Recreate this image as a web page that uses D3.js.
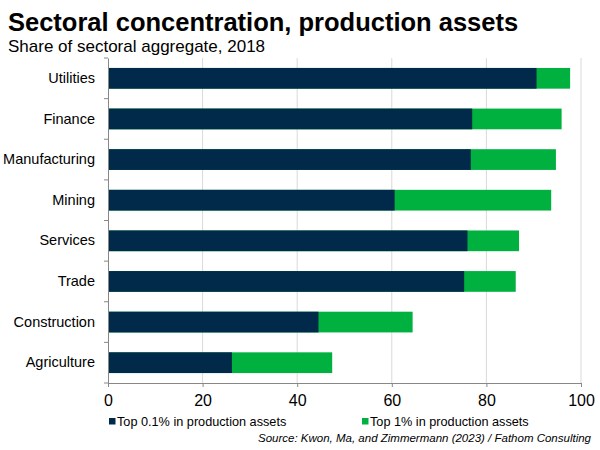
<!DOCTYPE html>
<html><head><meta charset="utf-8">
<script src="https://cdn.jsdelivr.net/npm/d3@7"></script>
<style>
html,body{margin:0;padding:0;background:#fff;}
svg{display:block;font-family:"Liberation Sans",Arial,sans-serif;}
</style></head>
<body><svg id="c" width="600" height="450"></svg>
<script>
const categories = ["Utilities","Finance","Manufacturing","Mining","Services","Trade","Construction","Agriculture"];
const top01 = [90.6, 77.0, 76.7, 60.6, 76.0, 75.3, 44.5, 26.2];
const top1  = [97.7, 95.9, 94.7, 93.7, 86.9, 86.2, 64.4, 47.4];
const xTicks = [0, 20, 40, 60, 80, 100];
const seriesNames = ["Top 0.1% in production assets", "Top 1% in production assets"];
const colors = ["#012a4a", "#00b140"];

(function () {
const svg = d3.select("#c");
const pL = 108, pR = 581, pT = 58, pB = 383;
const x = d3.scaleLinear().domain([0, 100]).range([pL, pR]);
const y = d3.scaleBand().domain(categories).range([pT, pB]).paddingInner(0.49).paddingOuter(0.245);

// title
svg.append("text").attr("x", 8).attr("y", 31).attr("font-size", 25.5).attr("font-weight", "bold").attr("fill", "#000")
  .text("Sectoral concentration, production assets");
svg.append("text").attr("x", 8).attr("y", 52).attr("font-size", 17).attr("fill", "#000")
  .text("Share of sectoral aggregate, 2018");

// gridlines
svg.append("g").selectAll("line").data(xTicks.filter(d => d > 0)).join("line")
  .attr("x1", d => x(d)).attr("x2", d => x(d)).attr("y1", pT).attr("y2", pB)
  .attr("stroke", "#d9d9d9").attr("stroke-width", 1);

// bars
const rows = categories.map((c, i) => ({c, a: top01[i], b: top1[i]}));
svg.append("g").selectAll("rect").data(rows).join("rect")
  .attr("x", x(0)).attr("y", d => y(d.c)).attr("height", y.bandwidth())
  .attr("width", d => x(d.b) - x(0)).attr("fill", colors[1]);
svg.append("g").selectAll("rect").data(rows).join("rect")
  .attr("x", x(0)).attr("y", d => y(d.c)).attr("height", y.bandwidth())
  .attr("width", d => x(d.a) - x(0)).attr("fill", colors[0]);

// x axis
const xAxis = d3.axisBottom(x).tickValues(xTicks).tickSize(4).tickPadding(8);
const gx = svg.append("g").attr("transform", `translate(0,${pB})`).call(xAxis);
gx.select(".domain").attr("stroke", "#888");
gx.selectAll(".tick line").attr("stroke", "#888");
gx.selectAll("text").attr("font-size", 16).attr("fill", "#000").attr("font-family", "Liberation Sans, Arial, sans-serif");

// y axis
const yAxis = d3.axisLeft(y).tickSize(0).tickPadding(13);
const gy = svg.append("g").attr("transform", `translate(${pL},0)`).call(yAxis);
gy.select(".domain").attr("stroke", "#888");
gy.selectAll("text").attr("font-size", 14.5).attr("fill", "#000").attr("font-family", "Liberation Sans, Arial, sans-serif");
const step = y.step();
const bounds = categories.map(c => y(c) - (step - y.bandwidth()) / 2).concat([pB]);
svg.append("g").selectAll("line").data(bounds).join("line")
  .attr("x1", pL - 4).attr("x2", pL).attr("y1", d => d).attr("y2", d => d)
  .attr("stroke", "#888");

// legend
const legX = [109, 362];
const lg = svg.append("g");
seriesNames.forEach((s, i) => {
  lg.append("rect").attr("x", legX[i]).attr("y", 418).attr("width", 6.5).attr("height", 6.5).attr("fill", colors[i]);
  lg.append("text").attr("x", legX[i] + 8).attr("y", 425.5).attr("font-size", 12.7).attr("fill", "#000").text(s);
});

// source
svg.append("text").attr("x", 591).attr("y", 442).attr("text-anchor", "end").attr("font-size", 11.5).attr("font-style", "italic")
  .attr("fill", "#000").text("Source: Kwon, Ma, and Zimmermann (2023) / Fathom Consulting");
})();
</script></body></html>
